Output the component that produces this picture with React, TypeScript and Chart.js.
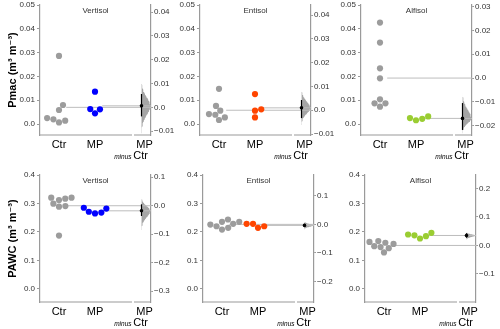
import React, { useEffect, useRef } from 'react';
import { Chart, registerables } from 'chart.js';

Chart.register(...registerables);

const FONT = "'Liberation Sans', 'DejaVu Sans', Arial, sans-serif";
Chart.defaults.font.family = FONT;

// ---------------- data ----------------
const soils = ['Vertisol', 'Entisol', 'Alfisol'];
const groups = ['Ctr', 'MP'];
const variableLabels = ['Pmac (m³ m⁻³)', 'PAWC (m³ m⁻³)'];
const ctrColor = '#9c9c9c';
const mpColors = ['#0000ff', '#ff4500', '#9acd32'];

// Pmac (m3 m-3)
const pmacCtrVertisol = [0.0286, 0.008, 0.0059, 0.0025, 0.0014, 0.0007, 0.002];
const pmacMpVertisol = [0.0136, 0.0062, 0.0045, 0.0063];
const pmacCtrEntisol = [0.0148, 0.0076, 0.0042, 0.0056, 0.0039, 0.0028, 0.0017];
const pmacMpEntisol = [0.0126, 0.0056, 0.0028, 0.0062];
const pmacCtrAlfisol = [0.0426, 0.0342, 0.0234, 0.0192, 0.0104, 0.0087, 0.0073, 0.0087];
const pmacMpAlfisol = [0.0032, 0.0016, 0.0025, 0.0022];

// PAWC (m3 m-3)
const pawcCtrVertisol = [0.3205, 0.312, 0.317, 0.3205, 0.2908, 0.2993, 0.2887, 0.1873];
const pawcMpVertisol = [0.285, 0.271, 0.265, 0.268, 0.282];
const pawcCtrEntisol = [0.2438, 0.2357, 0.226, 0.2357, 0.2201, 0.2085, 0.2145, 0.2286];
const pawcMpEntisol = [0.2286, 0.2201, 0.2145, 0.2286];
const pawcCtrAlfisol = [0.165, 0.168, 0.158, 0.162, 0.143, 0.15, 0.128, 0.147];
const pawcMpAlfisol = [0.197, 0.185, 0.188, 0.191, 0.177];

// 95% CI of the mean difference (MP minus Ctr)
const pmacCiVertisol = [-0.0038, 0.0056];
const pmacCiEntisol = [-0.0033, 0.0043];
const pmacCiAlfisol = [-0.0218, -0.0105];
const pawcCiVertisol = [-0.036, 0.005];
const pawcCiEntisol = [-0.0096, 0.0024];
const pawcCiAlfisol = [0.027, 0.043];

// extent of the bootstrap distribution [above, below] the mean difference
const pmacSpreadVertisol = [0.011, 0.0115];
const pmacSpreadEntisol = [0.0083, 0.0072];
const pmacSpreadAlfisol = [0.0112, 0.0062];
const pawcSpreadVertisol = [0.05, 0.067];
const pawcSpreadEntisol = [0.015, 0.014];
const pawcSpreadAlfisol = [0.012, 0.015];

// axis ranges and tick labels
const pmacLimits = [-0.0046, 0.05];
const pawcLimits = [-0.046, 0.4];
const pmacTicks = [0, 0.01, 0.02, 0.03, 0.04, 0.05];
const pawcTicks = [0, 0.1, 0.2, 0.3, 0.4];
const pmacDeltaTicksVertisol = [-0.01, 0, 0.01, 0.02, 0.03, 0.04];
const pmacDeltaTicksEntisol = [-0.01, 0, 0.01, 0.02, 0.03, 0.04];
const pmacDeltaTicksAlfisol = [-0.02, -0.01, 0, 0.01, 0.02, 0.03];
const pawcDeltaTicksVertisol = [-0.3, -0.2, -0.1, 0, 0.1];
const pawcDeltaTicksEntisol = [-0.2, -0.1, 0, 0.1];
const pawcDeltaTicksAlfisol = [-0.1, 0, 0.1, 0.2];

// ---------------- layout (pixels) ----------------
const PANEL_W = 111;
const PX_X = 36; // pixels per x unit
const CTR_OFF = 19;
const DELTA_OFF = 101.5;
const RAW_END_OFF = 92;
const DELTA_START_OFF = 94;
const VIOLIN_W = 0.24; // x units
const DOT_R = 3.1;
const SPINE = '#9a9a9a';
const rowTop = [5, 175];
const rowBottom = [135, 302];
const rowPadTop = [5, 7];
const rowBottomH = [30, 27];
const colLeft = [
  [40, 200, 361],
  [40, 203, 365],
];

const mean = (a: number[]) => a.reduce((s, v) => s + v, 0) / a.length;

function swarm(values: number[], center: number, ky: number, kx: number, d: number) {
  const idx = values.map((_, i) => i).sort((a, b) => values[a] - values[b]);
  const placed: { x: number; y: number }[] = [];
  const out: number[] = new Array(values.length);
  for (const i of idx) {
    const y = values[i] * ky;
    const cands = [0];
    for (const p of placed) {
      const dy = Math.abs(p.y - y);
      if (dy < d) {
        const dx = Math.sqrt(d * d - dy * dy);
        cands.push(p.x + dx, p.x - dx);
      }
    }
    cands.sort((a, b) => Math.abs(a) - Math.abs(b));
    let chosen = 0;
    for (const c of cands) {
      if (placed.every((p) => (p.x - c) ** 2 + (p.y - y) ** 2 >= d * d - 1e-6)) {
        chosen = c;
        break;
      }
    }
    placed.push({ x: chosen, y });
    out[i] = center + chosen / kx;
  }
  return out;
}

const fmt = (v: number) => {
  if (Math.abs(v) < 1e-12) return '0.0';
  return String(parseFloat(Number(v).toFixed(4))).replace('-', '\u2212');
};

const noPad = (s: any) => {
  s.paddingTop = 0;
  s.paddingBottom = 0;
  s.paddingLeft = 0;
  s.paddingRight = 0;
};

type PanelDef = {
  row: number;
  col: number;
  ctr: number[];
  mp: number[];
  limits: number[];
  ticks: number[];
  deltaTicks: number[];
  ci: number[];
  spread: number[];
};

const panels: PanelDef[] = [
  { row: 0, col: 0, ctr: pmacCtrVertisol, mp: pmacMpVertisol, limits: pmacLimits, ticks: pmacTicks, deltaTicks: pmacDeltaTicksVertisol, ci: pmacCiVertisol, spread: pmacSpreadVertisol },
  { row: 0, col: 1, ctr: pmacCtrEntisol, mp: pmacMpEntisol, limits: pmacLimits, ticks: pmacTicks, deltaTicks: pmacDeltaTicksEntisol, ci: pmacCiEntisol, spread: pmacSpreadEntisol },
  { row: 0, col: 2, ctr: pmacCtrAlfisol, mp: pmacMpAlfisol, limits: pmacLimits, ticks: pmacTicks, deltaTicks: pmacDeltaTicksAlfisol, ci: pmacCiAlfisol, spread: pmacSpreadAlfisol },
  { row: 1, col: 0, ctr: pawcCtrVertisol, mp: pawcMpVertisol, limits: pawcLimits, ticks: pawcTicks, deltaTicks: pawcDeltaTicksVertisol, ci: pawcCiVertisol, spread: pawcSpreadVertisol },
  { row: 1, col: 1, ctr: pawcCtrEntisol, mp: pawcMpEntisol, limits: pawcLimits, ticks: pawcTicks, deltaTicks: pawcDeltaTicksEntisol, ci: pawcCiEntisol, spread: pawcSpreadEntisol },
  { row: 1, col: 2, ctr: pawcCtrAlfisol, mp: pawcMpAlfisol, limits: pawcLimits, ticks: pawcTicks, deltaTicks: pawcDeltaTicksAlfisol, ci: pawcCiAlfisol, spread: pawcSpreadAlfisol },
];

function Panel({ def }: { def: PanelDef }) {
  const ref = useRef<HTMLCanvasElement>(null);
  const { row, col } = def;
  const left = colLeft[row][col];
  const top = rowTop[row];
  const bottom = rowBottom[row];
  const padTop = rowPadTop[row];
  const bottomH = rowBottomH[row];
  const leftW = col === 0 ? left : 26;
  const rightW = col === 2 ? 24 : 26;
  const cw = leftW + PANEL_W + rightW;
  const ch = padTop + (bottom - top) + bottomH;

  useEffect(() => {
    const canvas = ref.current;
    if (!canvas) return;
    const H = bottom - top;
    const xMin = -CTR_OFF / PX_X;
    const xMax = (PANEL_W - CTR_OFF) / PX_X;
    const deltaX = (DELTA_OFF - CTR_OFF) / PX_X;
    const rawEnd = (RAW_END_OFF - CTR_OFF) / PX_X;
    const deltaStart = (DELTA_START_OFF - CTR_OFF) / PX_X;
    const [yMin, yMax] = def.limits;
    const ky = H / (yMax - yMin);
    const ctrMean = mean(def.ctr);
    const mpMean = mean(def.mp);
    const delta = mpMean - ctrMean;
    const ctrX = swarm(def.ctr, 0, ky, PX_X, DOT_R * 2 + 0.2);
    const mpX = swarm(def.mp, 1, ky, PX_X, DOT_R * 2 + 0.2);

    const [up, down] = def.spread;
    const vio: { x: number; y: number }[] = [{ x: deltaX, y: delta - down }];
    const N = 48;
    for (let i = 0; i <= N; i++) {
      const t = -down + ((up + down) * i) / N;
      const sd = (t < 0 ? down : up) / 3;
      const w = Math.exp(-0.5 * (t / sd) ** 2);
      vio.push({ x: deltaX + VIOLIN_W * w, y: delta + t });
    }
    vio.push({ x: deltaX, y: delta + up });

    const title = soils[col];
    const color = mpColors[col];

    const deco = {
      id: 'deco',
      afterDraw(chart: any) {
        const { ctx, chartArea: a, scales } = chart;
        const xs = scales.x;
        ctx.save();
        ctx.strokeStyle = SPINE;
        ctx.lineWidth = 1.2;
        const yb = a.bottom;
        ctx.beginPath();
        ctx.moveTo(a.left, yb);
        ctx.lineTo(xs.getPixelForValue(rawEnd), yb);
        ctx.moveTo(xs.getPixelForValue(deltaStart), yb);
        ctx.lineTo(a.right, yb);
        ctx.stroke();
        ctx.fillStyle = '#333';
        ctx.font = `8px ${FONT}`;
        ctx.textAlign = 'center';
        ctx.textBaseline = 'middle';
        ctx.fillText(title, (a.left + a.right) / 2, a.top + 6);
        ctx.fillStyle = '#000';
        ctx.font = `11px ${FONT}`;
        ctx.fillText(groups[1], xs.getPixelForValue(deltaX) + 3, a.bottom + 3 + 6.6);
        ctx.textBaseline = 'alphabetic';
        ctx.textAlign = 'left';
        ctx.font = `italic 6.5px ${FONT}`;
        const w1 = ctx.measureText('minus ').width;
        ctx.font = `11px ${FONT}`;
        const w2 = ctx.measureText(groups[0]).width;
        const x0 = a.right - 3 - w1 - w2;
        const by = a.bottom + 24;
        ctx.font = `italic 6.5px ${FONT}`;
        ctx.fillText('minus ', x0, by);
        ctx.font = `11px ${FONT}`;
        ctx.fillText(groups[0], x0 + w1, by);
        ctx.restore();
      },
    };

    const yTitle =
      col === 0
        ? { display: true, text: variableLabels[row], font: { size: 11, weight: 'bold' }, color: '#000', padding: { top: 6, bottom: 0 } }
        : { display: false };

    const chart = new Chart(canvas, {
      type: 'scatter',
      data: {
        datasets: [
          {
            type: 'line',
            data: vio,
            yAxisID: 'y2',
            fill: 'shape',
            backgroundColor: 'rgba(110,110,110,0.62)',
            borderColor: 'rgba(0,0,0,0)',
            borderWidth: 0,
            pointRadius: 0,
            tension: 0,
            order: 6,
          },
          {
            type: 'line',
            data: [
              { x: 0.2, y: ctrMean },
              { x: xMax, y: ctrMean },
            ],
            yAxisID: 'y',
            borderColor: '#bdbdbd',
            borderWidth: 1,
            pointRadius: 0,
            fill: false,
            order: 5,
          },
          {
            type: 'line',
            data: [
              { x: 1.2, y: mpMean },
              { x: xMax, y: mpMean },
            ],
            yAxisID: 'y',
            borderColor: '#bdbdbd',
            borderWidth: 1,
            pointRadius: 0,
            fill: false,
            order: 4,
          },
          {
            type: 'line',
            data: [
              { x: deltaX, y: def.ci[0] },
              { x: deltaX, y: def.ci[1] },
            ],
            yAxisID: 'y2',
            borderColor: '#000',
            borderWidth: 1.2,
            pointRadius: 0,
            fill: false,
            order: 3,
          },
          {
            type: 'scatter',
            data: def.ctr.map((v, i) => ({ x: ctrX[i], y: v })),
            yAxisID: 'y',
            backgroundColor: ctrColor,
            borderWidth: 0,
            pointRadius: DOT_R,
            order: 2,
          },
          {
            type: 'scatter',
            data: def.mp.map((v, i) => ({ x: mpX[i], y: v })),
            yAxisID: 'y',
            backgroundColor: color,
            borderWidth: 0,
            pointRadius: DOT_R,
            order: 1,
          },
          {
            type: 'scatter',
            data: [{ x: deltaX, y: delta }],
            yAxisID: 'y2',
            backgroundColor: '#000',
            borderWidth: 0,
            pointRadius: 1.8,
            order: 0,
          },
        ],
      } as any,
      options: {
        animation: false,
        responsive: false,
        devicePixelRatio: 1,
        events: [],
        layout: { padding: { top: padTop, left: 0, right: 0, bottom: 0 } },
        plugins: { legend: { display: false }, tooltip: { enabled: false }, title: { display: false } },
        scales: {
          x: {
            type: 'linear',
            min: xMin,
            max: xMax,
            afterBuildTicks: (s: any) => {
              s.ticks = [{ value: 0 }, { value: 1 }];
            },
            ticks: {
              callback: (_v: any, i: number) => groups[i],
              font: { size: 11 },
              color: '#000',
              padding: 3,
              autoSkip: false,
              maxRotation: 0,
            },
            grid: { display: false, drawTicks: false },
            border: { display: false },
            afterFit: (s: any) => {
              s.height = bottomH;
              noPad(s);
            },
          },
          y: {
            type: 'linear',
            position: 'left',
            min: yMin,
            max: yMax,
            afterBuildTicks: (s: any) => {
              s.ticks = def.ticks.map((v) => ({ value: v }));
            },
            ticks: { callback: (v: any) => fmt(v), font: { size: 8 }, color: '#333', padding: 2 },
            grid: { display: true, drawOnChartArea: false, drawTicks: true, tickLength: 3, color: SPINE, lineWidth: 1 },
            border: { display: true, color: SPINE, width: 1.2 },
            title: yTitle,
            afterFit: (s: any) => {
              s.width = leftW;
              noPad(s);
            },
          },
          y2: {
            type: 'linear',
            position: 'right',
            min: yMin - ctrMean,
            max: yMax - ctrMean,
            afterBuildTicks: (s: any) => {
              s.ticks = def.deltaTicks.map((v) => ({ value: v }));
            },
            ticks: { callback: (v: any) => fmt(v), font: { size: 8 }, color: '#333', padding: 1 },
            grid: { display: true, drawOnChartArea: false, drawTicks: true, tickLength: 2, color: SPINE, lineWidth: 1 },
            border: { display: true, color: SPINE, width: 1.2 },
            afterFit: (s: any) => {
              s.width = rightW;
              noPad(s);
            },
          },
        },
      } as any,
      plugins: [deco],
    });
    return () => chart.destroy();
  }, []);

  return (
    <canvas
      ref={ref}
      width={cw}
      height={ch}
      style={{ position: 'absolute', left: left - leftW, top: top - padTop, width: cw, height: ch }}
    />
  );
}

export default function App() {
  return (
    <div style={{ position: 'absolute', left: 0, top: 0, width: 500, height: 329, overflow: 'hidden', background: '#fff' }}>
      {panels.map((p) => (
        <Panel key={`${p.row}-${p.col}`} def={p} />
      ))}
    </div>
  );
}
